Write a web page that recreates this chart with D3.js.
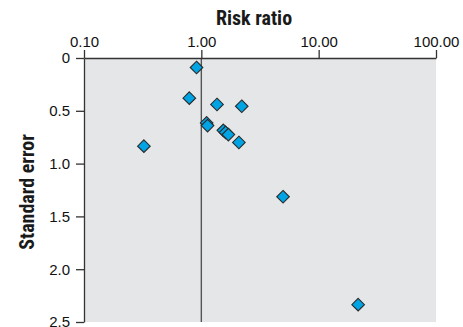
<!DOCTYPE html>
<html>
<head>
<meta charset="utf-8">
<script src="https://cdn.jsdelivr.net/npm/d3@7/dist/d3.min.js"></script>
<style>
  html, body { margin: 0; padding: 0; background: #fff; }
  svg { display: block; }
  .cond { font-family: "Liberation Sans Narrow", "Arial Narrow", "Roboto Condensed", sans-serif; }
</style>
</head>
<body>
<script>
// Funnel plot: risk ratio (log scale) vs. standard error
const riskRatio = [0.91, 0.79, 1.36, 2.21, 0.324, 1.11, 1.13, 1.54, 1.61, 1.70, 2.09, 4.97, 21.7];
const stdError  = [0.09, 0.38, 0.44, 0.457, 0.835, 0.615, 0.64, 0.685, 0.705, 0.725, 0.80, 1.314, 2.336];
const xTicks = [0.1, 1, 10, 100];
const yTicks = [0, 0.5, 1.0, 1.5, 2.0, 2.5];
const xTickLabels = ["0.10", "1.00", "10.00", "100.00"];
const yTickLabels = ["0", "0.5", "1.0", "1.5", "2.0", "2.5"];

const W = 463, H = 327;
const svg = d3.select("body").append("svg").attr("width", W).attr("height", H)
  .attr("class", "cond");

const x = d3.scaleLog().domain([0.1, 100]).range([84, 436]);
const y = d3.scaleLinear().domain([0, 2.5]).range([58, 322]);

// plot background
svg.append("rect")
  .attr("x", x(0.1)).attr("y", y(0))
  .attr("width", x(100) - x(0.1)).attr("height", y(2.5) - y(0))
  .attr("fill", "#e5e6e8");

// reference line at RR = 1
svg.append("line")
  .attr("x1", x(1)).attr("x2", x(1))
  .attr("y1", y(0)).attr("y2", y(2.5))
  .attr("stroke", "#555").attr("stroke-width", 1.4);

// top axis
const xAxis = svg.append("g").attr("transform", `translate(0,${y(0)})`)
  .call(d3.axisTop(x).tickValues(xTicks)
    .tickFormat((d, i) => xTickLabels[i]).tickSize(8).tickSizeOuter(0));

// left axis
const yAxis = svg.append("g").attr("transform", `translate(${x(0.1)},0)`)
  .call(d3.axisLeft(y).tickValues(yTicks)
    .tickFormat((d, i) => yTickLabels[i]).tickSize(8).tickSizeOuter(0));

[xAxis, yAxis].forEach(g => {
  g.selectAll("path.domain").attr("stroke", "#333").attr("stroke-width", 1.3);
  g.selectAll(".tick line").attr("stroke", "#333").attr("stroke-width", 1.3);
  g.selectAll(".tick text")
    .attr("font-family", '"Liberation Sans Narrow", "Arial Narrow", sans-serif')
    .attr("font-size", 15).attr("fill", "#111");
});
xAxis.selectAll(".tick text").attr("y", -11);
yAxis.selectAll(".tick text").attr("x", -14);

// points
svg.append("g").selectAll("path")
  .data(riskRatio.map((r, i) => ({ r, s: stdError[i] })))
  .join("path")
  .attr("transform", d => `translate(${x(d.r)},${y(d.s)})`)
  .attr("d", "M0,-6.3L6.3,0L0,6.3L-6.3,0Z")
  .attr("fill", "#00a3e4")
  .attr("stroke", "#2a2a2a")
  .attr("stroke-width", 1.1);

// titles
svg.append("text")
  .attr("x", 254).attr("y", 25)
  .attr("text-anchor", "middle")
  .attr("font-size", 20).attr("font-weight", "bold").attr("fill", "#1a1a1a")
  .text("Risk ratio");

svg.append("text")
  .attr("transform", "translate(34,192) rotate(-90)")
  .attr("text-anchor", "middle")
  .attr("font-size", 20).attr("font-weight", "bold").attr("fill", "#1a1a1a")
  .text("Standard error");
</script>
</body>
</html>
